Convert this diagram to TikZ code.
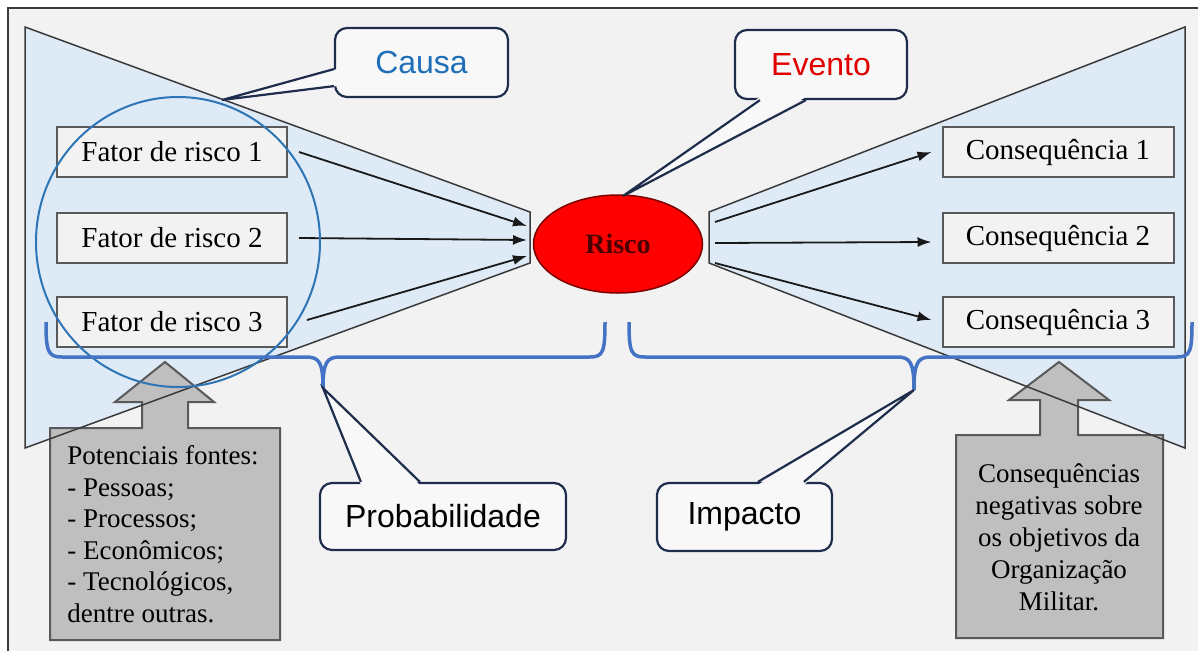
\documentclass[tikz,border=0pt]{standalone}
\usepackage{fontspec}
\setmainfont{Liberation Serif}
\newfontfamily\arialf{Liberation Sans}
\usetikzlibrary{arrows.meta,shapes.geometric,calc}
\definecolor{bgc}{HTML}{F2F2F2}
\definecolor{wedgec}{HTML}{DEEBF7}
\definecolor{edgec}{HTML}{3A3A3A}
\definecolor{boxc}{HTML}{595959}
\definecolor{grayc}{HTML}{BFBFBF}
\definecolor{navyc}{HTML}{1F2D4D}
\definecolor{bracec}{HTML}{4472C4}
\definecolor{circc}{HTML}{2E75B6}
\definecolor{causac}{HTML}{1F6FB8}
\definecolor{eventoc}{HTML}{E00000}
\definecolor{riscofill}{HTML}{FF0000}
\definecolor{riscoedge}{HTML}{7A0000}
\definecolor{riscotext}{HTML}{4A0000}
\definecolor{calloutfill}{HTML}{F8F8F8}
\tikzset{
  factor/.style={draw=boxc, fill=bgc, line width=2pt, minimum width=230pt, minimum height=50pt, inner sep=0pt, font=\fontsize{29}{32}\selectfont},
  callout/.style={draw=navyc, fill=calloutfill, line width=2.2pt, rounded corners=12pt, inner sep=0pt, font=\arialf\fontsize{32}{36}\selectfont},
  arr/.style={line width=1.8pt, draw=black!90, -{Latex[length=14pt,width=10pt]}},
  wedgefill/.style={fill=wedgec},
  wedgeline/.style={draw=edgec, line width=1.5pt, line join=miter},
  grayshape/.style={fill=grayc, draw=boxc, line width=2pt},
  bracestyle/.style={draw=bracec, line width=3.5pt},
  pointer/.style={draw=navyc, line width=2.2pt},
  graytext/.style={font=\fontsize{27}{31.5}\selectfont, inner sep=0pt}
}
\begin{document}
\begin{tikzpicture}[x=1pt,y=-1pt]
\useasboundingbox (0,0) rectangle (1198,651);
% background and frame
\fill[white] (0,0) rectangle (1198,651);
\fill[bgc] (8,8) rectangle (1198,651);
\draw[edgec, line width=1.5pt] (8,651) -- (8,8) -- (1198,8);
% wedges (fill)
\fill[wedgefill] (25,27) -- (530,212) -- (530,263) -- (25,448) -- cycle;
\fill[wedgefill] (709,212) -- (1185,27) -- (1185,448) -- (709,263) -- cycle;
% gray up-arrow callouts
\draw[grayshape] (50,428) -- (142,428) -- (142,402) -- (115,402) -- (165,362) -- (214,402) -- (188,402) -- (188,428) -- (280,428) -- (280,640) -- (50,640) -- cycle;
\draw[grayshape] (956,435) -- (1040,435) -- (1040,400) -- (1009,400) -- (1059,362) -- (1109,400) -- (1078,400) -- (1078,435) -- (1163,435) -- (1163,638) -- (956,638) -- cycle;
\node[graytext, align=left] (fontes) at (163,534) {Potenciais fontes:\\- Pessoas;\\- Processos;\\- Econômicos;\\- Tecnológicos,\\dentre outras.};
\node[graytext, align=center, font=\fontsize{27}{32}\selectfont] (negativas) at (1059,537) {Consequências\\negativas sobre\\os objetivos da\\Organização\\Militar.};
% wedge outlines
\draw[wedgeline] (25,27) -- (530,212) -- (530,263) -- (25,448) -- cycle;
\draw[wedgeline] (709,212) -- (1185,27) -- (1185,448) -- (709,263) -- cycle;
% factor and consequence boxes
\node[factor] (f1) at (172,152) {Fator de risco 1};
\node[factor] (f2) at (172,238) {Fator de risco 2};
\node[factor] (f3) at (172,322) {Fator de risco 3};
\node[factor, minimum width=231pt] (c1) at (1058,152) {Consequência 1};
\node[factor, minimum width=231pt] (c2) at (1058,238) {Consequência 2};
\node[factor, minimum width=231pt] (c3) at (1058,322) {Consequência 3};
% risk ellipse
\node[ellipse, draw=riscoedge, fill=riscofill, line width=1.5pt, minimum width=169pt, minimum height=98pt, inner sep=0pt, text=riscotext, font=\bfseries\fontsize{28}{30}\selectfont] (risco) at (618,244) {Risco};
% arrow end points
\coordinate (lt1) at (527,226);
\coordinate (lt2) at (527,240);
\coordinate (lt3) at (527,256);
\coordinate (rs1) at (715,222);
\coordinate (rs2) at (715,243);
\coordinate (rs3) at (715,263);
\draw[arr] ([xshift=11pt]f1.east) -- (lt1);
\draw[arr] ([xshift=11pt]f2.east) -- (lt2);
\draw[arr] ($(f3.east)+(19,-2)$) -- (lt3);
\draw[arr] (rs1) -- ([xshift=-10pt]c1.west);
\draw[arr] (rs2) -- ($(c2.west)+(-10,4)$);
\draw[arr] (rs3) -- ($(c3.west)+(-10,-2)$);
% blue circle
\draw[circc, line width=2pt] (178,242) ellipse [x radius=142, y radius=145];
% braces
\draw[bracestyle] (46,322) .. controls (46,352) and (48,357) .. (62,357) -- (306,357) .. controls (319,357) and (323,362) .. (323,388) .. controls (323,362) and (327,357) .. (340,357) -- (590,357) .. controls (603,357) and (605,352) .. (605,322);
\draw[bracestyle] (629,322) .. controls (629,352) and (631,357) .. (645,357) -- (897,357) .. controls (910,357) and (914,362) .. (914,390) .. controls (914,362) and (918,357) .. (931,357) -- (1177,357) .. controls (1190,357) and (1192,352) .. (1192,322);
% callouts
\node[callout, minimum width=173pt, minimum height=69pt, text=causac] (causa) at (421.5,62.5) {Causa};
\node[callout, minimum width=172pt, minimum height=69pt, text=eventoc] (evento) at (821,64.5) {Evento};
\node[callout, minimum width=246pt, minimum height=67pt] (prob) at (443,516.5) {Probabilidade};
\node[callout, minimum width=175pt, minimum height=68pt] (imp) at (744.5,517) {Impacto};
\coordinate (ctip) at (222,100);
\coordinate (etip) at (623,196);
\coordinate (ptip) at (323,388);
\coordinate (itip) at (914,390);
% Causa pointer
\fill[calloutfill] ($(causa.south west)+(3,-29)$) -- (ctip) -- ($(causa.south west)+(3,-12)$) -- cycle;
\draw[pointer] ($(causa.south west)+(0,-29)$) -- (ctip) -- ($(causa.south west)+(0,-12)$);
% Evento pointer
\fill[calloutfill] ($(evento.south west)+(26,-3)$) -- (etip) -- ($(evento.south west)+(72,-3)$) -- cycle;
\draw[pointer] ($(evento.south west)+(26,0)$) -- (etip) -- ($(evento.south west)+(72,0)$);
% Probabilidade pointer
\fill[calloutfill] ($(prob.north west)+(42,3)$) -- (ptip) -- ($(prob.north west)+(101,3)$) -- cycle;
\draw[pointer] ($(prob.north west)+(42,0)$) -- (ptip) -- ($(prob.north west)+(101,0)$);
% Impacto pointer
\fill[calloutfill] ($(imp.north west)+(102,3)$) -- (itip) -- ($(imp.north west)+(148,3)$) -- cycle;
\draw[pointer] ($(imp.north west)+(102,0)$) -- (itip) -- ($(imp.north west)+(148,0)$);
\end{tikzpicture}
\end{document}
